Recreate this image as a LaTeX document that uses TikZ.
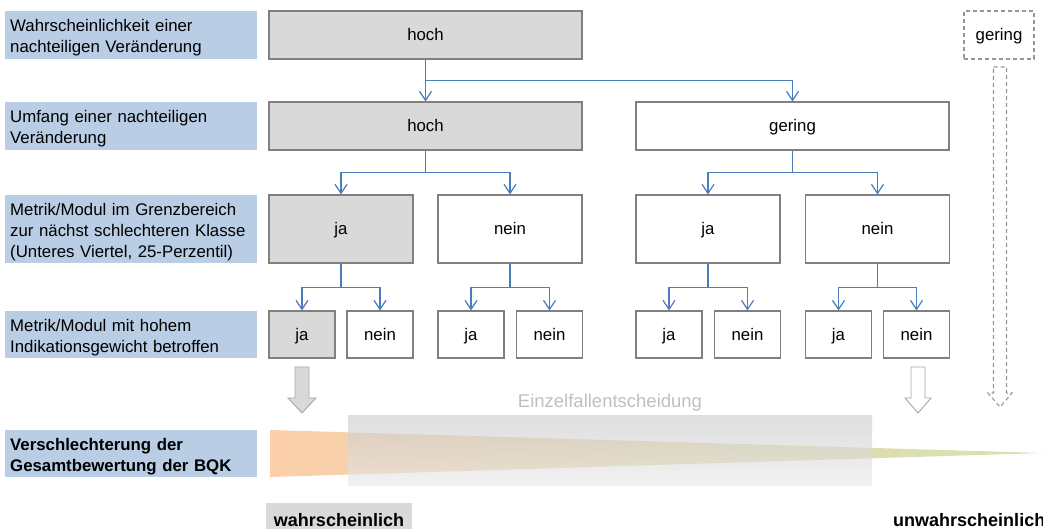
\documentclass[tikz,border=0pt]{standalone}
\usepackage{fontspec}
\setmainfont{Liberation Sans}
\usetikzlibrary{arrows.meta,calc}
\definecolor{lblue}{HTML}{B9CDE5}
\definecolor{boxgray}{HTML}{D9D9D9}
\definecolor{edgegray}{HTML}{808080}
\definecolor{conncol}{HTML}{4A7EBB}
\definecolor{peach}{HTML}{FBCFAA}
\definecolor{lgreen}{HTML}{D5E2B2}
\definecolor{txtgray}{HTML}{BFBFBF}
\definecolor{arrgray}{HTML}{A6A6A6}
\definecolor{shadetop}{HTML}{C8C8C8}
\definecolor{shadebot}{HTML}{E8E8E8}
\begin{document}
\begin{tikzpicture}[x=1pt,y=-1pt,
  every node/.style={font=\fontsize{16.8}{20.8}\selectfont, inner sep=0pt},
  lbl/.style={fill=lblue, text width=242pt, align=left, anchor=west, inner xsep=5pt,
    execute at begin node={\rule{0pt}{18pt}}},
  treebox/.style={draw=edgegray, line width=1.2pt, fill=white, text height=12.5pt, text depth=0.5pt},
  grayed/.style={fill=boxgray},
  bigbox/.style={treebox, minimum width=313pt, minimum height=48pt},
  midbox/.style={treebox, minimum width=144pt, minimum height=68pt},
  smallbox/.style={treebox, minimum width=66pt, minimum height=47pt},
  cn/.style={draw=conncol, line width=1.2pt, -{Straight Barb[length=9pt,width=12pt,line width=1.2pt]}},
  boldtext/.style={font=\bfseries\fontsize{18}{21}\selectfont}
]
\useasboundingbox (0,0) rectangle (1043,529);
\clip (0,0) rectangle (1043,529);

% left labels
\node[lbl, minimum height=48pt] (l1) at (5,35) {Wahrscheinlichkeit einer\\nachteiligen Veränderung};
\node[lbl, minimum height=48pt] (l2) at (5,126) {Umfang einer nachteiligen\\Veränderung};
\node[lbl, minimum height=68pt] (l3) at (5,229) {Metrik/Modul im Grenzbereich\\zur nächst schlechteren Klasse\\(Unteres Viertel, 25-Perzentil)};
\node[lbl, minimum height=47pt] (l4) at (5,334.5) {Metrik/Modul mit hohem\\Indikationsgewicht betroffen};
\node[lbl, minimum height=47pt, font=\bfseries\fontsize{16.8}{20.8}\selectfont] (l5) at (5,453.5) {Verschlechterung der\\Gesamtbewertung der BQK};

% tree
\node[bigbox, grayed] (top) at (425.5,35) {hoch};
\node[treebox, draw=arrgray!90!black, dash pattern=on 4pt off 3pt, minimum width=70pt, minimum height=48pt] (gtop) at (999,35) {gering};
\node[bigbox, grayed] (h2) at (425.5,126) {hoch};
\node[bigbox] (g2) at (792.5,126) {gering};

\node[midbox, grayed] (r3a) at (341,229) {ja};
\node[midbox] (r3b) at (510,229) {nein};
\node[midbox] (r3c) at (708,229) {ja};
\node[midbox] (r3d) at (877.5,229) {nein};

\node[smallbox, grayed] (n4a) at (302,334.5) {ja};
\node[smallbox] (n4b) at (380,334.5) {nein};
\node[smallbox] (n4c) at (471,334.5) {ja};
\node[smallbox] (n4d) at (549.5,334.5) {nein};
\node[smallbox] (n4e) at (669,334.5) {ja};
\node[smallbox] (n4f) at (747.5,334.5) {nein};
\node[smallbox] (n4g) at (838.5,334.5) {ja};
\node[smallbox] (n4h) at (916.5,334.5) {nein};

% connectors
\draw[cn] (top.south) -- (h2.north);
\draw[cn] (top.south) -- ++(0,21) -| (g2.north);
\draw[cn] (h2.south) -- ++(0,22) -| (r3a.north);
\draw[cn] (h2.south) -- ++(0,22) -| (r3b.north);
\draw[cn] (g2.south) -- ++(0,22) -| (r3c.north);
\draw[cn] (g2.south) -- ++(0,22) -| (r3d.north);
\draw[cn] (r3a.south) -- ++(0,24) -| (n4a.north);
\draw[cn] (r3a.south) -- ++(0,24) -| (n4b.north);
\draw[cn] (r3b.south) -- ++(0,24) -| (n4c.north);
\draw[cn] (r3b.south) -- ++(0,24) -| (n4d.north);
\draw[cn] (r3c.south) -- ++(0,24) -| (n4e.north);
\draw[cn] (r3c.south) -- ++(0,24) -| (n4f.north);
\draw[cn] (r3d.south) -- ++(0,24) -| (n4g.north);
\draw[cn] (r3d.south) -- ++(0,24) -| (n4h.north);

% wedge and Einzelfallentscheidung band
\shade[left color=peach, right color=lgreen] (270,430) -- (1043,453) -- (270,477) -- cycle;
\shade[top color=shadetop, bottom color=shadebot, opacity=0.6] (348,415) rectangle (872,485);
\node[text=txtgray, font=\fontsize{18.5}{22}\selectfont] (ez) at (610,403) {Einzelfallentscheidung};

% block arrows
\draw[draw=arrgray, fill=boxgray, line width=0.9pt, line join=miter]
  (295,367) -- (309,367) -- (309,398) -- (316,398) -- (302,413) -- (288,398) -- (295,398) -- cycle;
\draw[draw=arrgray, fill=white, line width=0.9pt, line join=miter]
  (911,367) -- (925,367) -- (925,398) -- (931,398) -- (918,413) -- (905,398) -- (911,398) -- cycle;
\draw[draw=arrgray!90!black, dash pattern=on 4pt off 3pt, line width=1.1pt]
  (993.5,67) -- (1006.5,67) -- (1006.5,393) -- (1012,393) -- (1000,407) -- (988,393) -- (993.5,393) -- cycle;

% bottom labels
\node[fill=boxgray, boldtext, minimum width=146pt, minimum height=34pt] (wl) at (339,520) {wahrscheinlich};
\node[boldtext, anchor=west] (ul) at (893,520) {unwahrscheinlich};
\end{tikzpicture}
\end{document}
